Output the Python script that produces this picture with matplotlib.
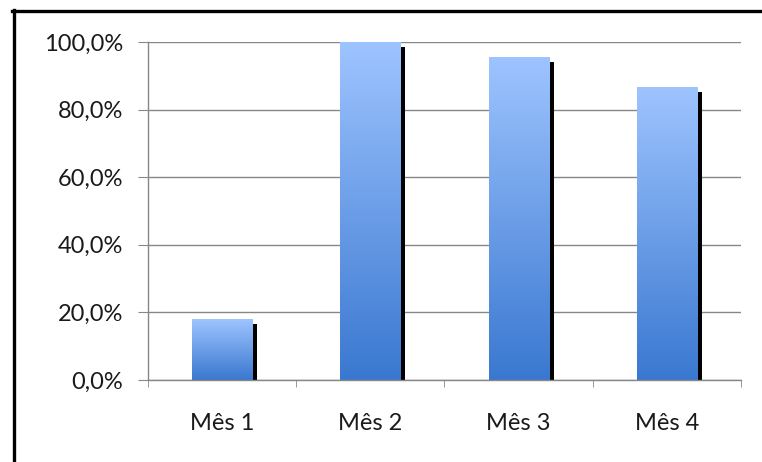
import numpy as np
import matplotlib.pyplot as plt
import matplotlib.patheffects as pe
from matplotlib.colors import LinearSegmentedColormap
from matplotlib.ticker import FuncFormatter, FixedLocator

# Dados do gráfico
meses = ["Mês 1", "Mês 2", "Mês 3", "Mês 4"]
valores = [18.0, 100.0, 95.5, 86.6]

plt.rcParams['font.family'] = ['Lato', 'DejaVu Sans']

fig = plt.figure(figsize=(7.62, 4.62), dpi=100)
ax = fig.add_axes([0.194, 0.1775, 0.7785, 0.7315])

# borda da figura (só esquerda e topo aparecem no recorte)
fig.add_artist(plt.Line2D([13.5 / 762, 13.5 / 762], [0, 1 - 10 / 462], color='black', lw=2.4))
fig.add_artist(plt.Line2D([12 / 762, 1], [1 - 11 / 462, 1 - 11 / 462], color='black', lw=2.4))

cinza = '#878787'
grad = LinearSegmentedColormap.from_list('grad', ['#3A78D0', '#9EC4FF'])

x = np.arange(len(meses))
largura = 0.405
barras = ax.bar(x, valores, width=largura, color='#9EC4FF', zorder=3,
                path_effects=[pe.SimplePatchShadow(offset=(3.6, -3.6), shadow_rgbFace='black', alpha=1.0),
                              pe.Normal()])

gradiente = np.linspace(0, 1, 256).reshape(-1, 1)
for b in barras:
    x0 = b.get_x()
    h = b.get_height()
    im = ax.imshow(gradiente, cmap=grad, origin='lower', aspect='auto',
                   extent=(x0, x0 + largura, 0, h), zorder=4)
    im.set_clip_path(b)

ax.set_xlim(-0.5, len(meses) - 0.5)
ax.set_ylim(0, 100)
ax.set_yticks(np.arange(0, 101, 20))
ax.yaxis.set_major_formatter(FuncFormatter(lambda v, p: f"{v:.1f}%".replace('.', ',')))
ax.set_xticks(x)
ax.set_xticklabels(meses)
ax.xaxis.set_minor_locator(FixedLocator(np.arange(-0.5, len(meses), 1.0)))

ax.grid(axis='y', color=cinza, lw=1.0, zorder=1)
for s in ['top', 'right']:
    ax.spines[s].set_visible(False)
for s in ['left', 'bottom']:
    ax.spines[s].set_color(cinza)
    ax.spines[s].set_linewidth(1.0)
    ax.spines[s].set_zorder(5)

ax.tick_params(axis='y', length=7, color=cinza, labelsize=17, pad=11, labelcolor='#1a1a1a')
ax.tick_params(axis='x', which='major', length=0, labelsize=17, pad=24, labelcolor='#1a1a1a')
ax.tick_params(axis='x', which='minor', length=5, color=cinza)

fig.savefig('out.png', dpi=100)
